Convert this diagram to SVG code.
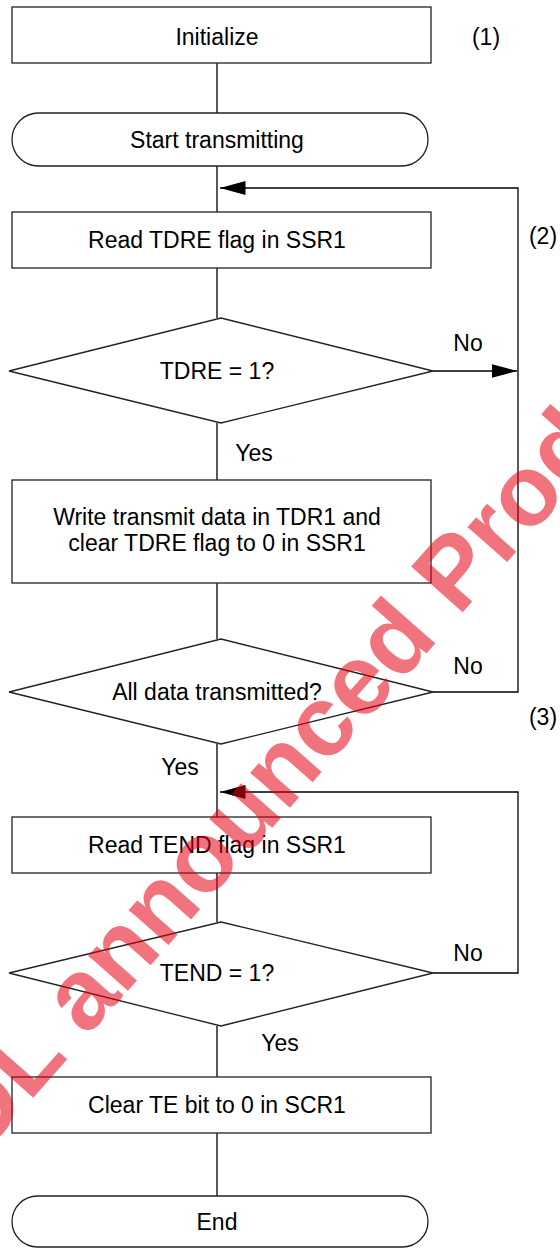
<svg xmlns="http://www.w3.org/2000/svg" width="560" height="1248" viewBox="0 0 560 1248">
<style>
.box{fill:#fff;stroke:#222;stroke-width:1.3}
.ln{fill:none;stroke:#000;stroke-width:1.3}
.t{font-family:"Liberation Sans",Arial,sans-serif;font-size:23px;fill:#000;text-anchor:middle}
.wm{font-family:"Liberation Sans",Arial,sans-serif;font-weight:bold;font-size:100px;fill:#e60012;fill-opacity:0.55}
</style>
<defs>
<marker id="ah" markerUnits="userSpaceOnUse" markerWidth="26" markerHeight="14" refX="25.5" refY="7" orient="auto">
<path d="M0,0 L25.5,7 L0,14 Z" fill="#000"/>
</marker>
</defs>
<rect width="560" height="1248" fill="#fff"/>
<g id="connectors">
<line class="ln" x1="217" y1="63" x2="217" y2="113"/>
<line class="ln" x1="217" y1="166" x2="217" y2="212"/>
<line class="ln" x1="217" y1="268" x2="217" y2="318"/>
<line class="ln" x1="217" y1="423" x2="217" y2="480"/>
<line class="ln" x1="217" y1="583" x2="217" y2="639"/>
<line class="ln" x1="217" y1="744" x2="217" y2="817"/>
<line class="ln" x1="217" y1="873" x2="217" y2="922"/>
<line class="ln" x1="217" y1="1026" x2="217" y2="1077"/>
<line class="ln" x1="217" y1="1133" x2="217" y2="1196"/>
<line class="ln" x1="433" y1="371" x2="517" y2="371" marker-end="url(#ah)"/>
<polyline class="ln" points="433,692 518,692 518,188 220,188" marker-end="url(#ah)"/>
<polyline class="ln" points="433,973 518,973 518,792 220,792" marker-end="url(#ah)"/>
<text class="t" x="468" y="351">No</text>
<text class="t" x="254" y="461">Yes</text>
<text class="t" x="468" y="674">No</text>
<text class="t" x="180" y="775">Yes</text>
<text class="t" x="468" y="961">No</text>
<text class="t" x="280" y="1051">Yes</text>
</g>
<g id="n1"><rect class="box" x="12" y="7" width="419" height="56"/><text class="t" x="217" y="45">Initialize</text></g>
<g id="lbl1"><text class="t" x="486" y="45">(1)</text></g>
<g id="n2"><rect class="box" x="12" y="113" width="416" height="53" rx="26.5"/><text class="t" x="217" y="148">Start transmitting</text></g>
<g id="n3"><rect class="box" x="12" y="212" width="419" height="56"/><text class="t" x="217" y="248">Read TDRE flag in SSR1</text></g>
<g id="lbl2"><text class="t" x="543" y="244">(2)</text></g>
<g id="n4"><polygon class="box" points="221,318 433,371 221,423 9,371"/><text class="t" x="217" y="379">TDRE = 1?</text></g>
<g id="n5"><rect class="box" x="12" y="480" width="419" height="103"/><text class="t" x="217" y="525">Write transmit data in TDR1 and</text><text class="t" x="217" y="551">clear TDRE flag to 0 in SSR1</text></g>
<g id="n6"><polygon class="box" points="221,639 433,692 221,744 9,692"/><text class="t" x="217" y="700">All data transmitted?</text></g>
<g id="lbl3"><text class="t" x="543" y="725">(3)</text></g>
<g id="n7"><rect class="box" x="12" y="817" width="419" height="56"/><text class="t" x="217" y="853">Read TEND flag in SSR1</text></g>
<g id="n8"><polygon class="box" points="221,922 433,973 221,1026 9,973"/><text class="t" x="217" y="981">TEND = 1?</text></g>
<g id="n9"><rect class="box" x="12" y="1077" width="419" height="56"/><text class="t" x="217" y="1113">Clear TE bit to 0 in SCR1</text></g>
<g id="n10"><rect class="box" x="12" y="1196" width="416" height="51" rx="25.5"/><text class="t" x="217" y="1230">End</text></g>
<g id="watermark"><text class="wm" x="-67" y="1211" transform="rotate(-48.5 -67 1211)">EOL announced Product</text></g>
</svg>
